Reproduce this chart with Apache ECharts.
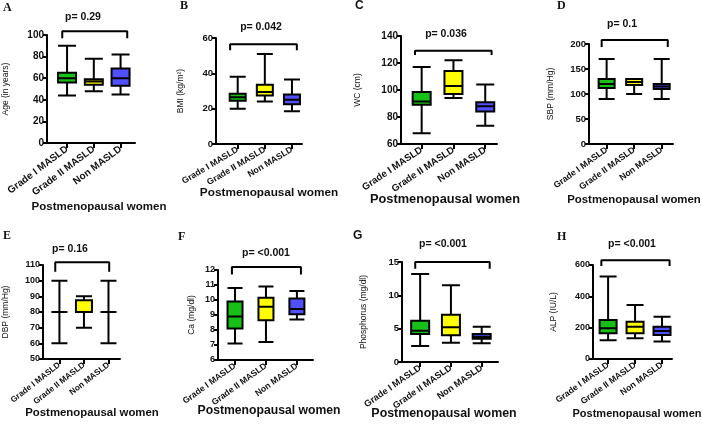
<!DOCTYPE html>
<html>
<head>
<meta charset="utf-8">
<script src="https://cdn.jsdelivr.net/npm/echarts@6/dist/echarts.min.js"></script>
<style>
  html, body { margin: 0; padding: 0; background: #fff; }
  #chart { width: 702px; height: 424px; }
</style>
</head>
<body>
<div id="chart"></div>
<script>
// groups on every panel
const groups = ['Grade I MASLD', 'Grade II MASLD', 'Non MASLD']
const groupColors = ['#16c016', '#ffff00', '#5050ff']
const panelLetters = ['A', 'B', 'C', 'D', 'E', 'F', 'G', 'H']
const yNames = ['Age (in years)', 'BMI (kg/m²)', 'WC (cm)', 'SBP (mm/Hg)', 'DBP (mm/Hg)', 'Ca (mg/dl)', 'Phosphorus (mg/dl)', 'ALP (IU/L)']
const pValues = ['p= 0.29', 'p= 0.042', 'p= 0.036', 'p= 0.1', 'p= 0.16', 'p= <0.001', 'p= <0.001', 'p= <0.001']
const xTitle = 'Postmenopausal women'

// [min, Q1, median, Q3, max] per group
const ageBox = [[44, 56, 60, 65, 90], [48, 54, 57, 59, 78], [45, 53, 60, 69, 82]]
const bmiBox = [[20, 24.5, 26.5, 28.5, 38], [24, 27.5, 29.5, 33.5, 51], [18.5, 22.5, 25, 28, 36.5]]
const wcBox = [[68, 89, 91.5, 98.5, 117], [94, 97, 103, 114, 122], [73.5, 84, 88, 91, 104]]
const sbpBox = [[90, 112, 120, 130, 170], [100, 118, 124, 130, 130], [90, 110, 115, 120, 170]]
const dbpBox = [[60, 80, 80, 80, 100], [70, 80, 80, 87.5, 90], [60, 80, 80, 80, 100]]
const caBox = [[7.1, 8.1, 8.9, 9.9, 10.8], [7.2, 8.65, 9.55, 10.15, 10.9], [8.7, 9.05, 9.4, 10.1, 10.6]]
const phBox = [[2.4, 4.2, 4.7, 6.2, 13.2], [2.9, 4.0, 5.2, 7.1, 11.5], [2.8, 3.5, 3.8, 4.2, 5.3]]
const alpBox = [[120, 165, 196, 249, 526], [132, 164, 206, 238, 345], [111, 153, 178, 206, 270]]
const boxes = [ageBox, bmiBox, wcBox, sbpBox, dbpBox, caBox, phBox, alpBox]

// y scales
const yMin = [0, 0, 60, 0, 50, 6, 0, 0]
const yMax = [100, 60, 140, 200, 110, 12, 15, 600]
const yStep = [20, 20, 20, 50, 10, 1, 5, 200]

// comparison bracket: [x start, x end, leg end, top]
const brackets = [
  [-0.18, 2.25, 97, 103.5],
  [-0.28, 2.18, 53, 56.5],
  [-0.21, 2.2, 126, 129],
  [-0.18, 2.22, 194, 208],
  [-0.17, 2.03, 105.7, 111.7],
  [-0.1, 2.13, 11.7, 12.2],
  [-0.16, 2.26, 14, 15],
  [-0.25, 2.28, 593, 630]
]

// layout per panel
const grids = [
  { left: 43, top: 35, width: 92, height: 108 },
  { left: 216, top: 38, width: 86, height: 106 },
  { left: 401, top: 36, width: 96, height: 108 },
  { left: 589, top: 44, width: 84, height: 100 },
  { left: 42, top: 265, width: 78, height: 94 },
  { left: 218, top: 270, width: 95, height: 90 },
  { left: 402, top: 262, width: 96, height: 100 },
  { left: 593, top: 265, width: 79, height: 94 }
]
const xRange = [[-0.75, 2.54], [-0.8, 2.37], [-0.65, 2.37], [-0.64, 2.41], [-0.67, 2.47], [-0.55, 2.52], [-0.59, 2.53], [-0.56, 2.37]]
const nameGaps = [37, 31, 39, 34, 33, 22, 34, 35]
const boxWidths = [18, 16, 18, 16, 16, 15, 18, 17]
const catFont = [10, 8.8, 9.7, 8.8, 8.3, 8.7, 9.2, 8.7]
const catRotate = [37, 31, 34, 36, 38, 36, 35, 36]
const tickFont = [10, 9.5, 10, 9.5, 9, 9, 9.5, 9]
const titleFont = [11.5, 11.8, 12.8, 11.4, 11.4, 12.2, 12.4, 11]
const letterPos = [[3, 2], [180, 0], [355, 0], [557, 0], [3, 230], [178, 231], [353, 230], [557, 231]]
const pPos = [[83, 12], [261, 22], [446, 29], [622, 19], [70, 244], [266, 248], [443, 239], [632, 239]]
const titlePos = [[99, 201], [269, 187], [445, 193], [634, 194], [92, 407], [269, 405], [444, 408], [637, 408]]

const font = 'Liberation Sans, Arial, sans-serif'
const ink = '#111'

const chart = echarts.init(document.getElementById('chart'))

const titles = []
panelLetters.forEach((l, i) => {
  const sans = l === 'C' || l === 'G'
  titles.push({
    text: l, left: letterPos[i][0], top: letterPos[i][1], padding: 0,
    textStyle: { fontSize: 12, fontWeight: 'bold', color: ink, fontFamily: sans ? font : 'Liberation Serif, serif' }
  })
  titles.push({
    text: pValues[i], left: pPos[i][0], top: pPos[i][1], padding: 0, textAlign: 'center',
    textStyle: { fontSize: 10.5, fontWeight: 'bold', color: ink, fontFamily: font }
  })
  titles.push({
    text: xTitle, left: titlePos[i][0], top: titlePos[i][1], padding: 0, textAlign: 'center',
    textStyle: { fontSize: titleFont[i], fontWeight: 'bold', color: ink, fontFamily: font }
  })
})

const xAxes = grids.map((g, i) => ({
  type: 'value',
  gridIndex: i,
  min: xRange[i][0],
  max: xRange[i][1],
  axisLine: { show: true, onZero: false, lineStyle: { color: '#000', width: 2 } },
  axisTick: { show: true, length: 5, customValues: [0, 1, 2], lineStyle: { color: '#000', width: 2 } },
  axisLabel: {
    customValues: [0, 1, 2],
    formatter: v => groups[Math.round(v)],
    rotate: catRotate[i],
    margin: 5,
    fontSize: catFont[i],
    fontWeight: 'bold',
    color: ink,
    fontFamily: font
  },
  splitLine: { show: false }
}))

const yAxes = grids.map((g, i) => ({
  type: 'value',
  gridIndex: i,
  min: yMin[i],
  max: yMax[i],
  interval: yStep[i],
  name: yNames[i],
  nameLocation: 'middle',
  nameGap: nameGaps[i],
  nameTextStyle: { fontSize: 8.5, color: ink, fontFamily: font },
  axisLine: { show: true, onZero: false, lineStyle: { color: '#000', width: 2 } },
  axisTick: { show: true, length: 4, lineStyle: { color: '#000', width: 2 } },
  axisLabel: { fontSize: tickFont[i], fontWeight: 'bold', color: ink, fontFamily: font, margin: 3 },
  splitLine: { show: false }
}))

const series = []
boxes.forEach((b, i) => {
  series.push({
    type: 'boxplot',
    xAxisIndex: i,
    yAxisIndex: i,
    boxWidth: [boxWidths[i], boxWidths[i]],
    itemStyle: { borderColor: '#000', borderWidth: 2 },
    emphasis: { disabled: true },
    data: b.map((v, k) => ({ value: [k].concat(v), itemStyle: { color: groupColors[k] } }))
  })
  const br = brackets[i]
  series.push({
    type: 'line',
    xAxisIndex: i,
    yAxisIndex: i,
    clip: false,
    symbol: 'none',
    silent: true,
    lineStyle: { color: '#000', width: 2 },
    data: [[br[0], br[2]], [br[0], br[3]], [br[1], br[3]], [br[1], br[2]]]
  })
})

chart.setOption({
  animation: false,
  backgroundColor: '#fff',
  title: titles,
  grid: grids,
  xAxis: xAxes,
  yAxis: yAxes,
  series: series
})
</script>
</body>
</html>
